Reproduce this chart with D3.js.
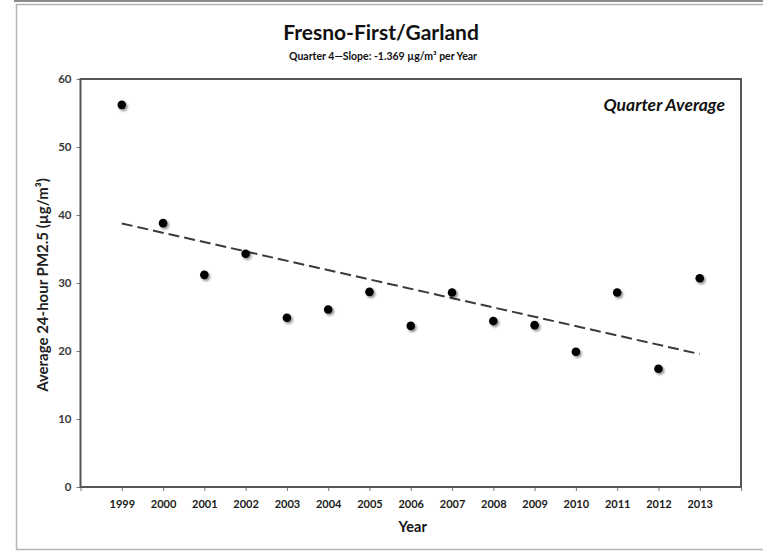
<!DOCTYPE html>
<html>
<head>
<meta charset="utf-8">
<script src="https://cdn.jsdelivr.net/npm/d3@7"></script>
<style>
  html, body { margin: 0; padding: 0; background: #fff; }
  svg { display: block; }
  text { font-family: Lato, "Open Sans", sans-serif; }
</style>
</head>
<body>
<svg id="chart" width="763" height="552"></svg>
<script>
// Fresno-First/Garland, quarter 4 average 24-hour PM2.5 by year
const years = [1999, 2000, 2001, 2002, 2003, 2004, 2005, 2006, 2007, 2008, 2009, 2010, 2011, 2012, 2013];
const pm25 = [56.2, 38.8, 31.2, 34.3, 24.9, 26.1, 28.7, 23.7, 28.6, 24.4, 23.8, 19.9, 28.6, 17.4, 30.7];
const yTicks = [0, 10, 20, 30, 40, 50, 60];
const titleText = "Fresno-First/Garland";
const subtitleText = "Quarter 4\u2014Slope: -1.369 \u00b5g/m\u00b3 per Year";
const yLabelText = "Average 24-hour PM2.5 (\u00b5g/m\u00b3)";
const xLabelText = "Year";
const panelText = "Quarter Average";

const svg = d3.select("#chart");
const W = 763, H = 552;
const plot = { left: 80.5, right: 741, top: 79, bottom: 487 };

// outer page frame
svg.append("line").attr("x1", 14).attr("x2", W).attr("y1", 1).attr("y2", 1)
  .attr("stroke", "#8a8a8a").attr("stroke-width", 2);
svg.append("rect").attr("x", 16.5).attr("y", 4.5).attr("width", W).attr("height", 545)
  .attr("fill", "none").attr("stroke", "#b4b4b4").attr("stroke-width", 1.5);

const x = d3.scaleLinear().domain([1998, 2014]).range([plot.left, plot.right]);
const y = d3.scaleLinear().domain([0, 60]).range([plot.bottom, plot.top]);

// shadow under the markers
const defs = svg.append("defs");
const f = defs.append("filter").attr("id", "shadow")
  .attr("x", "-100%").attr("y", "-100%").attr("width", "300%").attr("height", "300%");
f.append("feDropShadow").attr("dx", 1.6).attr("dy", 1.8).attr("stdDeviation", 1.3)
  .attr("flood-color", "#000").attr("flood-opacity", 0.45);

// titles
svg.append("text").attr("x", 381).attr("y", 40).attr("text-anchor", "middle")
  .attr("font-size", 21).attr("font-weight", 700).attr("fill", "#111")
  .text(titleText);
svg.append("text").attr("x", 383).attr("y", 60).attr("text-anchor", "middle")
  .attr("font-size", 10.5).attr("font-weight", 700).attr("fill", "#111")
  .text(subtitleText);

// axes
const yAxis = d3.axisLeft(y).tickValues(yTicks).tickSize(4).tickPadding(5);
const gy = svg.append("g").attr("transform", `translate(${plot.left},0)`).call(yAxis);
const xAxis = d3.axisBottom(x).tickValues(d3.range(1998, 2015)).tickSize(4).tickPadding(9)
  .tickFormat(d => years.includes(d) ? String(d) : "");
const gx = svg.append("g").attr("transform", `translate(0,${plot.bottom})`).call(xAxis);

[gx, gy].forEach(g => {
  g.select(".domain").remove();
  g.selectAll(".tick line").attr("stroke", "#7a7a7a").attr("stroke-width", 1);
  g.selectAll(".tick text").attr("fill", "#1a1a1a").attr("font-weight", 700)
    .style("font-family", "Lato, sans-serif");
});
gy.selectAll(".tick text").attr("font-size", 11.5).attr("fill", "#3a3a3a");
gx.selectAll(".tick text").attr("font-size", 11);

// plot frame
svg.append("rect").attr("x", plot.left).attr("y", plot.top)
  .attr("width", plot.right - plot.left).attr("height", plot.bottom - plot.top)
  .attr("fill", "none").attr("stroke", "#555").attr("stroke-width", 2);

// axis titles
svg.append("text").attr("transform", `translate(48,${(plot.top + plot.bottom) / 2 + 2}) rotate(-90)`)
  .attr("text-anchor", "middle").attr("font-size", 15).attr("font-weight", 700).attr("fill", "#222")
  .text(yLabelText);
svg.append("text").attr("x", (plot.left + plot.right) / 2 + 2).attr("y", 532)
  .attr("text-anchor", "middle").attr("font-size", 14.5).attr("font-weight", 700).attr("fill", "#111")
  .text(xLabelText);

// panel label
svg.append("text").attr("x", 725).attr("y", 111).attr("text-anchor", "end")
  .attr("font-size", 17.5).attr("font-weight", 700).attr("font-style", "italic").attr("fill", "#111")
  .text(panelText);

// least-squares trend
const n = years.length;
const mx = d3.mean(years), my = d3.mean(pm25);
const sxy = d3.sum(years, (d, i) => (d - mx) * (pm25[i] - my));
const sxx = d3.sum(years, d => (d - mx) * (d - mx));
const slope = sxy / sxx, intercept = my - slope * mx;
const trend = [years[0], years[n - 1]].map(t => [t, intercept + slope * t]);
svg.append("path")
  .attr("d", d3.line().x(d => x(d[0])).y(d => y(d[1]))(trend))
  .attr("fill", "none").attr("stroke", "#3a3a3a").attr("stroke-width", 2)
  .attr("stroke-dasharray", "11,5");

// data markers
svg.append("g").selectAll("circle").data(years).join("circle")
  .attr("cx", d => x(d)).attr("cy", (d, i) => y(pm25[i])).attr("r", 4.3)
  .attr("fill", "#000").attr("filter", "url(#shadow)");
</script>
</body>
</html>
